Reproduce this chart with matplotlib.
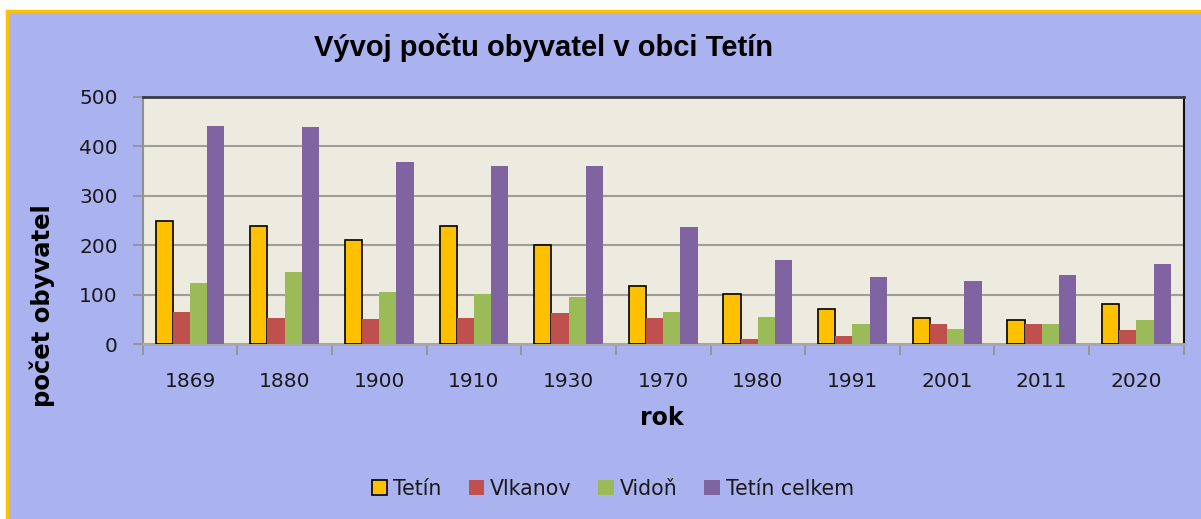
import numpy as np
import matplotlib
matplotlib.use('Agg')
import matplotlib.pyplot as plt
from matplotlib.patches import Rectangle, Patch

# data
roky = ['1869', '1880', '1900', '1910', '1930', '1970', '1980', '1991', '2001', '2011', '2020']
tetin = [248, 238, 211, 238, 201, 118, 102, 72, 54, 49, 82]
vlkanov = [65, 53, 51, 53, 63, 53, 11, 17, 40, 42, 28]
vidon = [124, 145, 105, 102, 95, 65, 55, 42, 30, 42, 50]
celkem = [441, 438, 369, 361, 361, 237, 170, 135, 127, 139, 162]

serie = ['Tetín', 'Vlkanov', 'Vidoň', 'Tetín celkem']
barvy = ['#FFC000', '#C0504D', '#9BBB59', '#8064A2']
hodnoty = [tetin, vlkanov, vidon, celkem]

pozadi = '#AAB2F0'

fig = plt.figure(figsize=(12.01, 5.19), dpi=100, facecolor='white')
# lavender chart area with orange frame (left and top visible)
fig.patches.append(Rectangle((7 / 1201, -0.1), 1.2, 1 - 11 / 519 + 0.1, transform=fig.transFigure,
                             facecolor=pozadi, edgecolor='#FFC000', lw=2.5, zorder=-10))

ax = fig.add_axes([142.7 / 1201, 1 - 344.3 / 519, 1041 / 1201, 247.6 / 519])
ax.set_facecolor('#EDEBE0')

x = np.arange(len(roky))
w = 1 / 5.5
for i, (jmeno, barva, hod) in enumerate(zip(serie, barvy, hodnoty)):
    if i == 0:
        ax.bar(x + (i - 1.5) * w, hod, w, color=barva, edgecolor='black', lw=1.2, zorder=3, label=jmeno)
    else:
        ax.bar(x + (i - 1.5) * w, hod, w, color=barva, edgecolor='none', zorder=3, label=jmeno)

ax.set_xlim(-0.5, len(roky) - 0.5)
ax.set_ylim(0, 500)
ax.set_yticks(range(0, 501, 100))
ax.yaxis.grid(True, color='#A09E98', lw=1.5, zorder=1)
ax.tick_params(axis='y', length=7, width=1.2, color='#909090', pad=11, labelsize=14.5, labelcolor='#1A1A1A')

# ticks between groups, labels in the middle
ax.set_xticks(np.arange(-0.5, len(roky), 1))
ax.set_xticklabels([])
ax.set_xticks(x, minor=True)
ax.set_xticklabels(roky, minor=True)
ax.tick_params(axis='x', which='major', length=8, width=1.2, color='#909090')
ax.tick_params(axis='x', which='minor', length=0, pad=20, labelsize=14.5, labelcolor='#1A1A1A')

ax.spines['left'].set_color('#909090')
ax.spines['left'].set_linewidth(1.5)
ax.spines['bottom'].set_color('#A8A8A8')
ax.spines['bottom'].set_linewidth(2)
ax.spines['top'].set_color('#3A3A4A')
ax.spines['top'].set_linewidth(2)
ax.spines['right'].set_color('#111111')
ax.spines['right'].set_linewidth(1.5)

fig.text(543 / 1201, 1 - 47 / 519, 'Vývoj počtu obyvatel v obci Tetín', ha='center', va='center',
         fontsize=21, fontweight='bold', family='Liberation Sans')
fig.text(42 / 1201, 1 - 306 / 519, 'počet obyvatel', ha='center', va='center', rotation=90,
         fontsize=17.5, fontweight='bold')
fig.text(662 / 1201, 1 - 418 / 519, 'rok', ha='center', va='center', fontsize=17, fontweight='bold')

handles = [Patch(facecolor=barvy[0], edgecolor='black', lw=1.2)] + \
          [Patch(facecolor=b, edgecolor='none') for b in barvy[1:]]
fig.legend(handles, serie, loc='center', bbox_to_anchor=(613 / 1201, 1 - 489 / 519), ncol=4,
           frameon=False, fontsize=14.8, handlelength=0.75, handleheight=0.75,
           handletextpad=0.3, columnspacing=1.3, labelcolor='#1A1A1A')

plt.savefig('out.png', dpi=100, facecolor='white')
